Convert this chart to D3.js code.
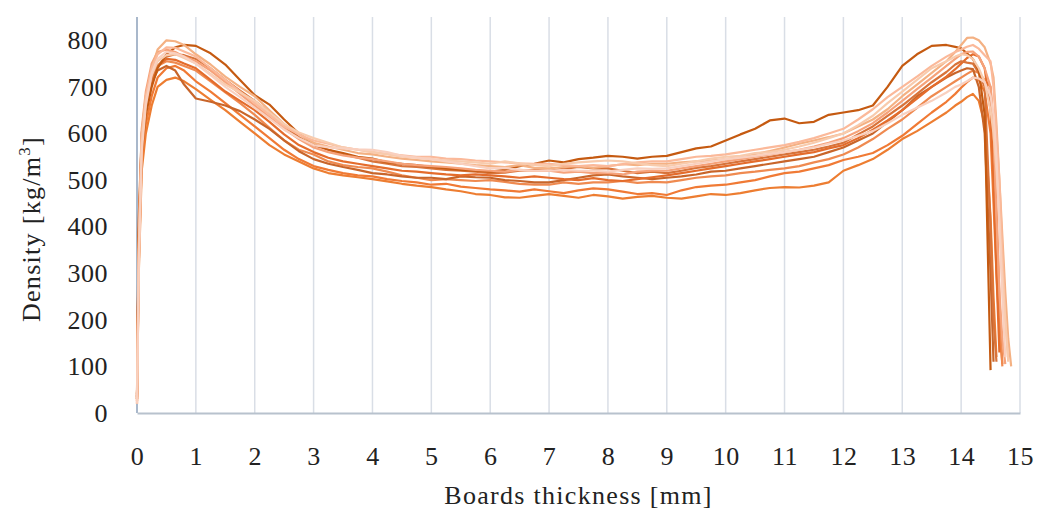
<!DOCTYPE html>
<html>
<head>
<meta charset="utf-8">
<script src="https://cdn.jsdelivr.net/npm/d3@7"></script>
<style>
  body { margin: 0; background: #fff; }
  svg text { font-family: "Liberation Serif", "DejaVu Serif", serif; fill: #222; }
</style>
</head>
<body>
<div id="chart"></div>
<script>
// sampling positions along the board thickness [mm]
const thickness = [0, 0.03, 0.08, 0.15, 0.25, 0.35, 0.5, 0.65, 0.8,
  1.0, 1.25, 1.5, 1.75, 2.0, 2.25, 2.5, 2.75, 3.0, 3.25, 3.5, 3.75, 4.0, 4.25, 4.5, 4.75,
  5.0, 5.25, 5.5, 5.75, 6.0, 6.25, 6.5, 6.75, 7.0, 7.25, 7.5, 7.75, 8.0, 8.25, 8.5, 8.75,
  9.0, 9.25, 9.5, 9.75, 10.0, 10.25, 10.5, 10.75, 11.0, 11.25, 11.5, 11.75, 12.0, 12.25,
  12.5, 12.75, 13.0, 13.25, 13.5, 13.75,
  13.9, 14.0, 14.1, 14.2, 14.3, 14.4, 14.5, 14.55, 14.6, 14.65, 14.7, 14.75, 14.8, 14.85];

// density profiles [kg/m3], one per board, null after the board surface
const densityA = [30, 380, 560, 640, 700, 740, 770, 785, 790,
  788, 772, 748, 715, 682, 662, 630, 600, 578, 565, 558, 550, 546, 538, 535, 532,
  528, 525, 522, 520, 518, 522, 530, 535, 542, 538, 545, 548, 552, 550, 546, 550,
  552, 560, 568, 572, 585, 598, 610, 628, 632, 622, 625, 640, 645, 650,
  660, 700, 745, 770, 788, 790,
  786, 783, 772, 760, 735, 640, 92, null, null, null, null, null, null, null];
const densityB = [35, 300, 520, 600, 660, 700, 715, 720, 712,
  695, 672, 650, 625, 600, 575, 555, 540, 525, 515, 510, 506, 502, 497, 492, 488,
  485, 480, 476, 470, 468, 463, 462, 466, 470, 466, 462, 468, 465, 460, 464, 466,
  462, 460, 465, 470, 468, 472, 478, 483, 485, 484, 488, 495, 520, 532,
  545, 565, 588, 605, 625, 645,
  660, 668, 678, 685, 670, 620, 420, 250, 120, null, null, null, null, null];
const densityC = [25, 320, 540, 620, 680, 720, 740, 745, 735,
  712, 690, 665, 640, 615, 590, 565, 545, 530, 522, 515, 510, 508, 502, 498, 495,
  490, 492, 486, 483, 480, 478, 475, 480, 476, 472, 478, 482, 480, 475, 470, 472,
  468, 478, 485, 488, 490, 495, 500, 508, 515, 518, 525, 532, 543, 550,
  558, 575, 595, 620, 645, 668,
  685, 698, 710, 720, 715, 690, 600, 450, 300, 180, 105, null, null, null];
const densityD = [40, 420, 600, 660, 710, 735, 745, 735, 705,
  675, 668, 660, 648, 630, 610, 585, 562, 545, 535, 528, 522, 515, 512, 508, 505,
  505, 502, 508, 506, 505, 500, 498, 495, 495, 500, 505, 510, 512, 508, 505, 502,
  505, 508, 512, 518, 520, 525, 530, 535, 540, 545, 550, 560, 570, 585,
  600, 625, 650, 680, 700, 720,
  730, 735, 740, 738, 700, 600, 300, 110, null, null, null, null, null, null];
const densityE = [20, 350, 600, 680, 740, 780, 800, 798, 790,
  770, 748, 722, 700, 680, 650, 620, 598, 580, 572, 565, 558, 555, 550, 546, 543,
  540, 538, 535, 532, 530, 528, 532, 526, 525, 528, 530, 526, 530, 534, 532, 535,
  535, 538, 540, 542, 545, 550, 556, 562, 570, 578, 585, 592, 600, 615,
  630, 652, 680, 705, 730, 755,
  775, 790, 805, 806, 800, 785, 750, 720, 620, 500, 380, 260, 160, 100];
const densityF = [30, 330, 580, 670, 725, 755, 768, 770, 762,
  750, 728, 705, 688, 670, 645, 620, 602, 590, 580, 570, 565, 560, 555, 550, 548,
  545, 542, 540, 538, 535, 540, 536, 532, 530, 535, 538, 540, 542, 540, 536, 532,
  530, 535, 540, 546, 550, 552, 558, 560, 565, 572, 580, 590, 600, 618,
  638, 665, 690, 715, 740, 755,
  765, 770, 768, 760, 740, 710, 650, 600, 520, 420, 300, 200, 110, null];
const densityG = [20, 360, 610, 690, 750, 775, 780, 775, 765,
  755, 735, 710, 685, 660, 635, 610, 588, 570, 560, 553, 548, 545, 540, 535, 532,
  530, 528, 525, 522, 520, 518, 522, 520, 520, 516, 518, 515, 515, 512, 518, 520,
  520, 525, 530, 535, 540, 545, 550, 555, 560, 565, 572, 580, 590, 605,
  622, 645, 670, 695, 720, 745,
  760, 770, 775, 776, 765, 740, 700, 620, 420, 260, 160, 105, null, null];
const densityH = [30, 400, 590, 660, 715, 745, 760, 758, 750,
  740, 715, 690, 670, 650, 625, 598, 575, 560, 548, 540, 535, 530, 525, 520, 518,
  515, 512, 510, 512, 510, 508, 505, 508, 505, 502, 500, 504, 500, 498, 502, 506,
  510, 515, 520, 525, 530, 535, 540, 545, 550, 555, 560, 568, 575, 590,
  608, 628, 650, 675, 700, 722,
  738, 750, 762, 770, 765, 740, 650, 500, 300, 130, null, null, null, null];
const densityI = [35, 380, 580, 650, 710, 745, 765, 770, 768,
  760, 740, 715, 692, 670, 645, 615, 592, 575, 565, 555, 548, 540, 535, 530, 528,
  525, 522, 520, 518, 515, 516, 520, 522, 520, 524, 528, 525, 525, 520, 515, 518,
  515, 520, 526, 530, 535, 540, 545, 550, 555, 560, 565, 572, 580, 598,
  615, 638, 660, 685, 710, 732,
  748, 755, 752, 750, 730, 700, 400, 200, 110, null, null, null, null, null];
const densityJ = [25, 340, 590, 680, 740, 770, 785, 784, 776,
  765, 740, 715, 690, 665, 640, 615, 598, 585, 578, 570, 565, 560, 556, 553, 550,
  550, 546, 545, 542, 540, 538, 536, 535, 535, 532, 530, 532, 530, 534, 538, 540,
  540, 545, 550, 552, 555, 560, 565, 570, 575, 582, 590, 600, 610, 630,
  652, 678, 700, 722, 745, 765,
  775, 780, 786, 790, 782, 768, 755, 700, 600, 500, 350, 200, 115, null];
const densityK = [30, 360, 580, 655, 715, 745, 755, 752, 745,
  735, 712, 688, 665, 640, 612, 585, 565, 555, 540, 532, 528, 525, 518, 510, 505,
  500, 502, 500, 498, 500, 496, 492, 490, 490, 495, 492, 495, 495, 498, 494, 496,
  495, 500, 505, 508, 510, 515, 518, 522, 525, 530, 538, 545, 555, 570,
  588, 610, 630, 655, 680, 700,
  712, 720, 728, 735, 730, 715, 700, 600, 450, 250, 100, null, null, null];
const densityL = [20, 310, 560, 660, 730, 760, 775, 772, 765,
  750, 725, 700, 678, 655, 632, 608, 590, 575, 570, 568, 566, 565, 560, 552, 548,
  545, 540, 535, 530, 525, 526, 522, 520, 520, 522, 520, 520, 518, 522, 525, 524,
  525, 530, 535, 540, 545, 548, 552, 556, 560, 565, 570, 578, 585, 595,
  605, 622, 640, 655, 670, 688,
  700, 705, 712, 720, 718, 710, 680, 640, 550, 400, 250, 120, null, null];

const series = [
  { values: densityB, color: "#ed7d31" },
  { values: densityC, color: "#f07a35" },
  { values: densityK, color: "#ef8a50" },
  { values: densityD, color: "#c8652a" },
  { values: densityH, color: "#e46c2c" },
  { values: densityI, color: "#d8733a" },
  { values: densityA, color: "#c55a11" },
  { values: densityG, color: "#f6a27a" },
  { values: densityE, color: "#f4b183" },
  { values: densityJ, color: "#fbb99a" },
  { values: densityF, color: "#f8cbad" },
  { values: densityL, color: "#f9d0bf" }
];

const xTicks = [0, 1, 2, 3, 4, 5, 6, 7, 8, 9, 10, 11, 12, 13, 14, 15];
const yTicks = [0, 100, 200, 300, 400, 500, 600, 700, 800];

const width = 1037, height = 512;
const margin = { top: 17, right: 17, bottom: 99, left: 137 };
const fontSize = 26;

const svg = d3.select("#chart").append("svg")
  .attr("width", width)
  .attr("height", height);

const x = d3.scaleLinear().domain([0, 15]).range([margin.left, width - margin.right]);
const y = d3.scaleLinear().domain([0, 850]).range([height - margin.bottom, margin.top]);

// vertical grid lines
svg.append("g")
  .selectAll("line")
  .data(xTicks.slice(1))
  .enter()
  .append("line")
  .attr("x1", d => x(d)).attr("x2", d => x(d))
  .attr("y1", y(850)).attr("y2", y(0))
  .attr("stroke", "#d9dee6")
  .attr("stroke-width", 1.5);

// left axis line
svg.append("line")
  .attr("x1", x(0)).attr("x2", x(0))
  .attr("y1", y(850)).attr("y2", y(0))
  .attr("stroke", "#a9b8cb")
  .attr("stroke-width", 2);

// bottom axis
const xAxis = svg.append("g")
  .attr("transform", "translate(0," + y(0) + ")")
  .call(d3.axisBottom(x).tickValues(xTicks).tickSize(0).tickPadding(34).tickFormat(d3.format("d")));
xAxis.select(".domain").attr("stroke", "#b8c2cd").attr("stroke-width", 2);
xAxis.selectAll("text").attr("font-size", fontSize).attr("fill", "#222")
  .attr("font-family", "Liberation Serif, serif")
  .attr("letter-spacing", 0.5);

// left axis labels
const yAxis = svg.append("g")
  .attr("transform", "translate(" + x(0) + ",0)")
  .call(d3.axisLeft(y).tickValues(yTicks).tickSize(0).tickPadding(29).tickFormat(d3.format("d")));
yAxis.select(".domain").remove();
yAxis.selectAll("text").attr("font-size", fontSize).attr("fill", "#222")
  .attr("font-family", "Liberation Serif, serif")
  .attr("letter-spacing", 0.5);

// density profiles
const line = d3.line()
  .defined(d => d != null)
  .x((d, i) => x(thickness[i]))
  .y(d => y(d));

svg.append("g")
  .selectAll("path")
  .data(series)
  .enter()
  .append("path")
  .attr("fill", "none")
  .attr("stroke", d => d.color)
  .attr("stroke-width", 2.2)
  .attr("stroke-linejoin", "round")
  .attr("d", d => line(d.values));

// axis titles
svg.append("text")
  .attr("x", (x(0) + x(15)) / 2)
  .attr("y", 504)
  .attr("text-anchor", "middle")
  .attr("font-size", fontSize)
  .attr("letter-spacing", 1.3)
  .text("Boards thickness [mm]");

const yTitle = svg.append("text")
  .attr("transform", "translate(40,229) rotate(-90)")
  .attr("text-anchor", "middle")
  .attr("font-size", fontSize)
  .attr("letter-spacing", 1.3);
yTitle.append("tspan").text("Density [kg/m");
yTitle.append("tspan").attr("dy", -10).attr("font-size", 17).text("3");
yTitle.append("tspan").attr("dy", 10).text("]");
</script>
</body>
</html>
